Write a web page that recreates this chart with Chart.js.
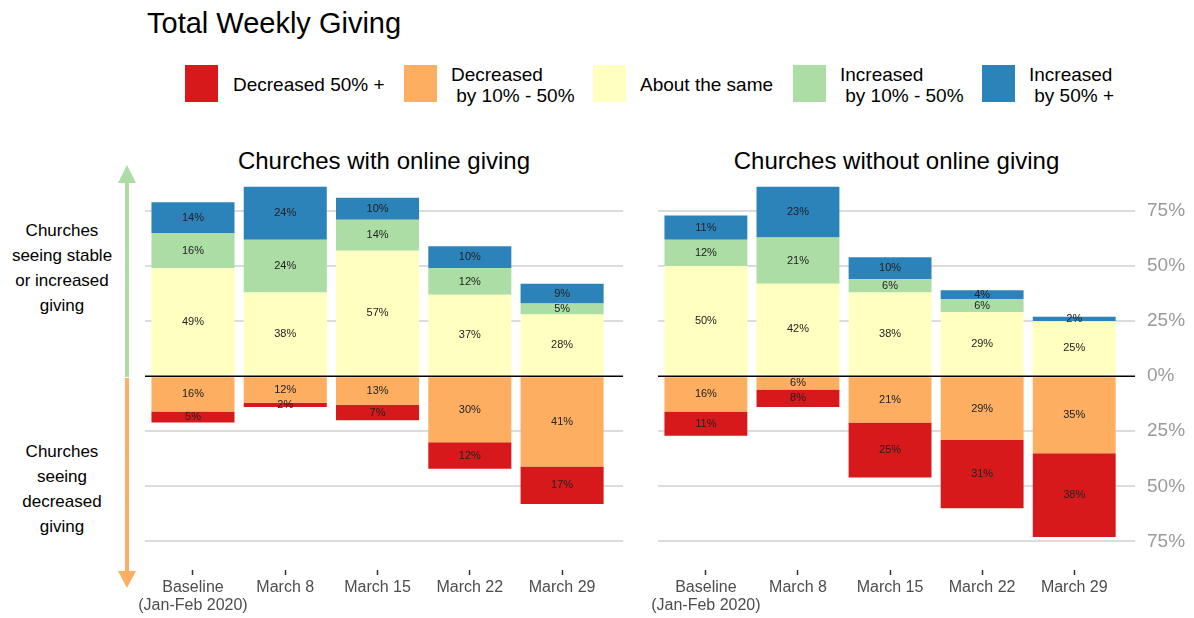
<!DOCTYPE html>
<html>
<head>
<meta charset="utf-8">
<script src="https://cdn.jsdelivr.net/npm/chart.js@4.4.1/dist/chart.umd.min.js"></script>
<style>
  body { margin: 0; width: 1194px; height: 618px; position: relative; overflow: hidden; background: #fff;
         font-family: "Liberation Sans", Arial, sans-serif; color: #000; }
  .t { position: absolute; white-space: pre; }
  .sw { position: absolute; top: 65px; width: 33px; height: 37px; }
  .leg { position: absolute; font-size: 19px; line-height: 21px; white-space: pre; }
  .note { position: absolute; left: 0; width: 124px; text-align: center; font-size: 17px; line-height: 25px; }
  .box { position: absolute; top: 153px; height: 465px; }
</style>
</head>
<body>
<div class="t" style="left:147px; top:6px; font-size:29px; line-height:34px;">Total Weekly Giving</div>

<!-- legend -->
<div class="sw" style="left:185px; background:#d7191c;"></div>
<div class="leg" style="left:233px; top:74px;">Decreased 50% +</div>
<div class="sw" style="left:404px; background:#fdae61;"></div>
<div class="leg" style="left:451px; top:64px;">Decreased
 by 10% - 50%</div>
<div class="sw" style="left:593px; background:#ffffbf;"></div>
<div class="leg" style="left:640px; top:74px;">About the same</div>
<div class="sw" style="left:793px; background:#abdda4;"></div>
<div class="leg" style="left:840px; top:64px;">Increased
 by 10% - 50%</div>
<div class="sw" style="left:982px; background:#2b83ba;"></div>
<div class="leg" style="left:1029px; top:64px;">Increased
 by 50% +</div>

<!-- panel titles -->
<div class="t" style="left:145px; width:478px; text-align:center; top:147px; font-size:24px; line-height:28px;">Churches with online giving</div>
<div class="t" style="left:658px; width:477px; text-align:center; top:147px; font-size:24px; line-height:28px;">Churches without online giving</div>

<!-- side notes and arrows -->
<div class="note" style="top:218px;">Churches<br>seeing stable<br>or increased<br>giving</div>
<div class="note" style="top:439px;">Churches<br>seeing<br>decreased<br>giving</div>
<svg style="position:absolute; left:0; top:0;" width="150" height="618">
  <line x1="127" y1="180" x2="127" y2="377" stroke="#abdda4" stroke-width="4"/>
  <polygon points="118,183 136,183 127,165" fill="#abdda4"/>
  <line x1="127" y1="378" x2="127" y2="574" stroke="#fdae61" stroke-width="4"/>
  <polygon points="118,571 136,571 127,588" fill="#fdae61"/>
</svg>

<div class="box" style="left:130px; width:508px;"><canvas id="onlineChart"></canvas></div>
<div class="box" style="left:643px; width:549px;"><canvas id="offlineChart"></canvas></div>

<script>
const categories = [['Baseline', '(Jan-Feb 2020)'], 'March 8', 'March 15', 'March 22', 'March 29'];
const yTicks = [-75, -50, -25, 0, 25, 50, 75];

// churches with online giving, % of churches
const onlineDecreased50 = [5, 2, 7, 12, 17];
const onlineDecreased10 = [16, 12, 13, 30, 41];
const onlineSame = [49, 38, 57, 37, 28];
const onlineIncreased10 = [16, 24, 14, 12, 5];
const onlineIncreased50 = [14, 24, 10, 10, 9];

// churches without online giving
const offlineDecreased50 = [11, 8, 25, 31, 38];
const offlineDecreased10 = [16, 6, 21, 29, 35];
const offlineSame = [50, 42, 38, 29, 25];
const offlineIncreased10 = [12, 21, 6, 6, 0];
const offlineIncreased50 = [11, 23, 10, 4, 2];

Chart.defaults.font.family = '"Liberation Sans", Arial, sans-serif';

function series(values, sign, color) {
    return {
        data: values.map((v, i) => ({ x: i, y: sign * v })),
        backgroundColor: color,
        borderWidth: 0,
        barPercentage: 0.9,
        categoryPercentage: 1
    };
}

// negatives first so orange sits next to zero, red below it
function buildDatasets(dec50, dec10, same, inc10, inc50) {
    return [
        series(dec10, -1, '#fdae61'),
        series(dec50, -1, '#d7191c'),
        series(same, 1, '#ffffbf'),
        series(inc10, 1, '#abdda4'),
        series(inc50, 1, '#2b83ba')
    ];
}

// zero line on top of the bars plus the % labels
const barLabels = {
    id: 'barLabels',
    afterDatasetsDraw(chart) {
        const ctx = chart.ctx;
        const area = chart.chartArea;
        const y0 = chart.scales.y.getPixelForValue(0);
        ctx.save();
        ctx.strokeStyle = '#000';
        ctx.lineWidth = 1.5;
        ctx.beginPath();
        ctx.moveTo(area.left, y0);
        ctx.lineTo(area.right, y0);
        ctx.stroke();

        ctx.font = '11px "Liberation Sans", Arial, sans-serif';
        ctx.fillStyle = '#222';
        ctx.textAlign = 'center';
        ctx.textBaseline = 'middle';
        chart.data.datasets.forEach((ds, i) => {
            chart.getDatasetMeta(i).data.forEach((bar, j) => {
                const v = ds.data[j].y;
                if (!v) return;
                ctx.fillText(Math.abs(v) + '%', bar.x, (bar.y + bar.base) / 2);
            });
        });
        ctx.restore();
    }
};

function makeChart(id, datasets, showY) {
    return new Chart(document.getElementById(id), {
        type: 'bar',
        data: { datasets: datasets },
        options: {
            responsive: true,
            maintainAspectRatio: false,
            animation: false,
            layout: { padding: { left: 15, right: showY ? 5 : 15, top: 25, bottom: 0 } },
            plugins: { legend: { display: false }, tooltip: { enabled: false } },
            scales: {
                x: {
                    type: 'linear',
                    stacked: true,
                    offset: false,
                    min: -0.52,
                    max: 4.66,
                    afterBuildTicks: s => { s.ticks = categories.map((c, i) => ({ value: i })); },
                    afterFit: s => { s.height = 48; },
                    border: { display: false },
                    grid: { offset: false, drawOnChartArea: false, drawTicks: true, tickLength: 5, tickWidth: 1.5, tickColor: '#333' },
                    ticks: {
                        color: '#4d4d4d',
                        font: { size: 16, lineHeight: 1.15 },
                        padding: 3,
                        maxRotation: 0,
                        autoSkip: false,
                        callback: v => categories[v]
                    }
                },
                y: {
                    stacked: true,
                    min: -88,
                    max: 90,
                    position: showY ? 'right' : 'left',
                    afterBuildTicks: s => { s.ticks = yTicks.map(v => ({ value: v })); },
                    afterFit: s => { s.width = showY ? 52 : 0; },
                    border: { display: false },
                    grid: {
                        drawTicks: false,
                        lineWidth: 2,
                        color: c => c.tick && c.tick.value === 0 ? 'rgba(0,0,0,0)' : '#dcdcdc'
                    },
                    ticks: {
                        display: showY,
                        color: '#9a9a9a',
                        font: { size: 19 },
                        padding: 12,
                        autoSkip: false,
                        callback: v => Math.abs(v) + '%'
                    }
                }
            }
        },
        plugins: [barLabels]
    });
}

makeChart('onlineChart', buildDatasets(onlineDecreased50, onlineDecreased10, onlineSame, onlineIncreased10, onlineIncreased50), false);
makeChart('offlineChart', buildDatasets(offlineDecreased50, offlineDecreased10, offlineSame, offlineIncreased10, offlineIncreased50), true);
</script>
</body>
</html>
